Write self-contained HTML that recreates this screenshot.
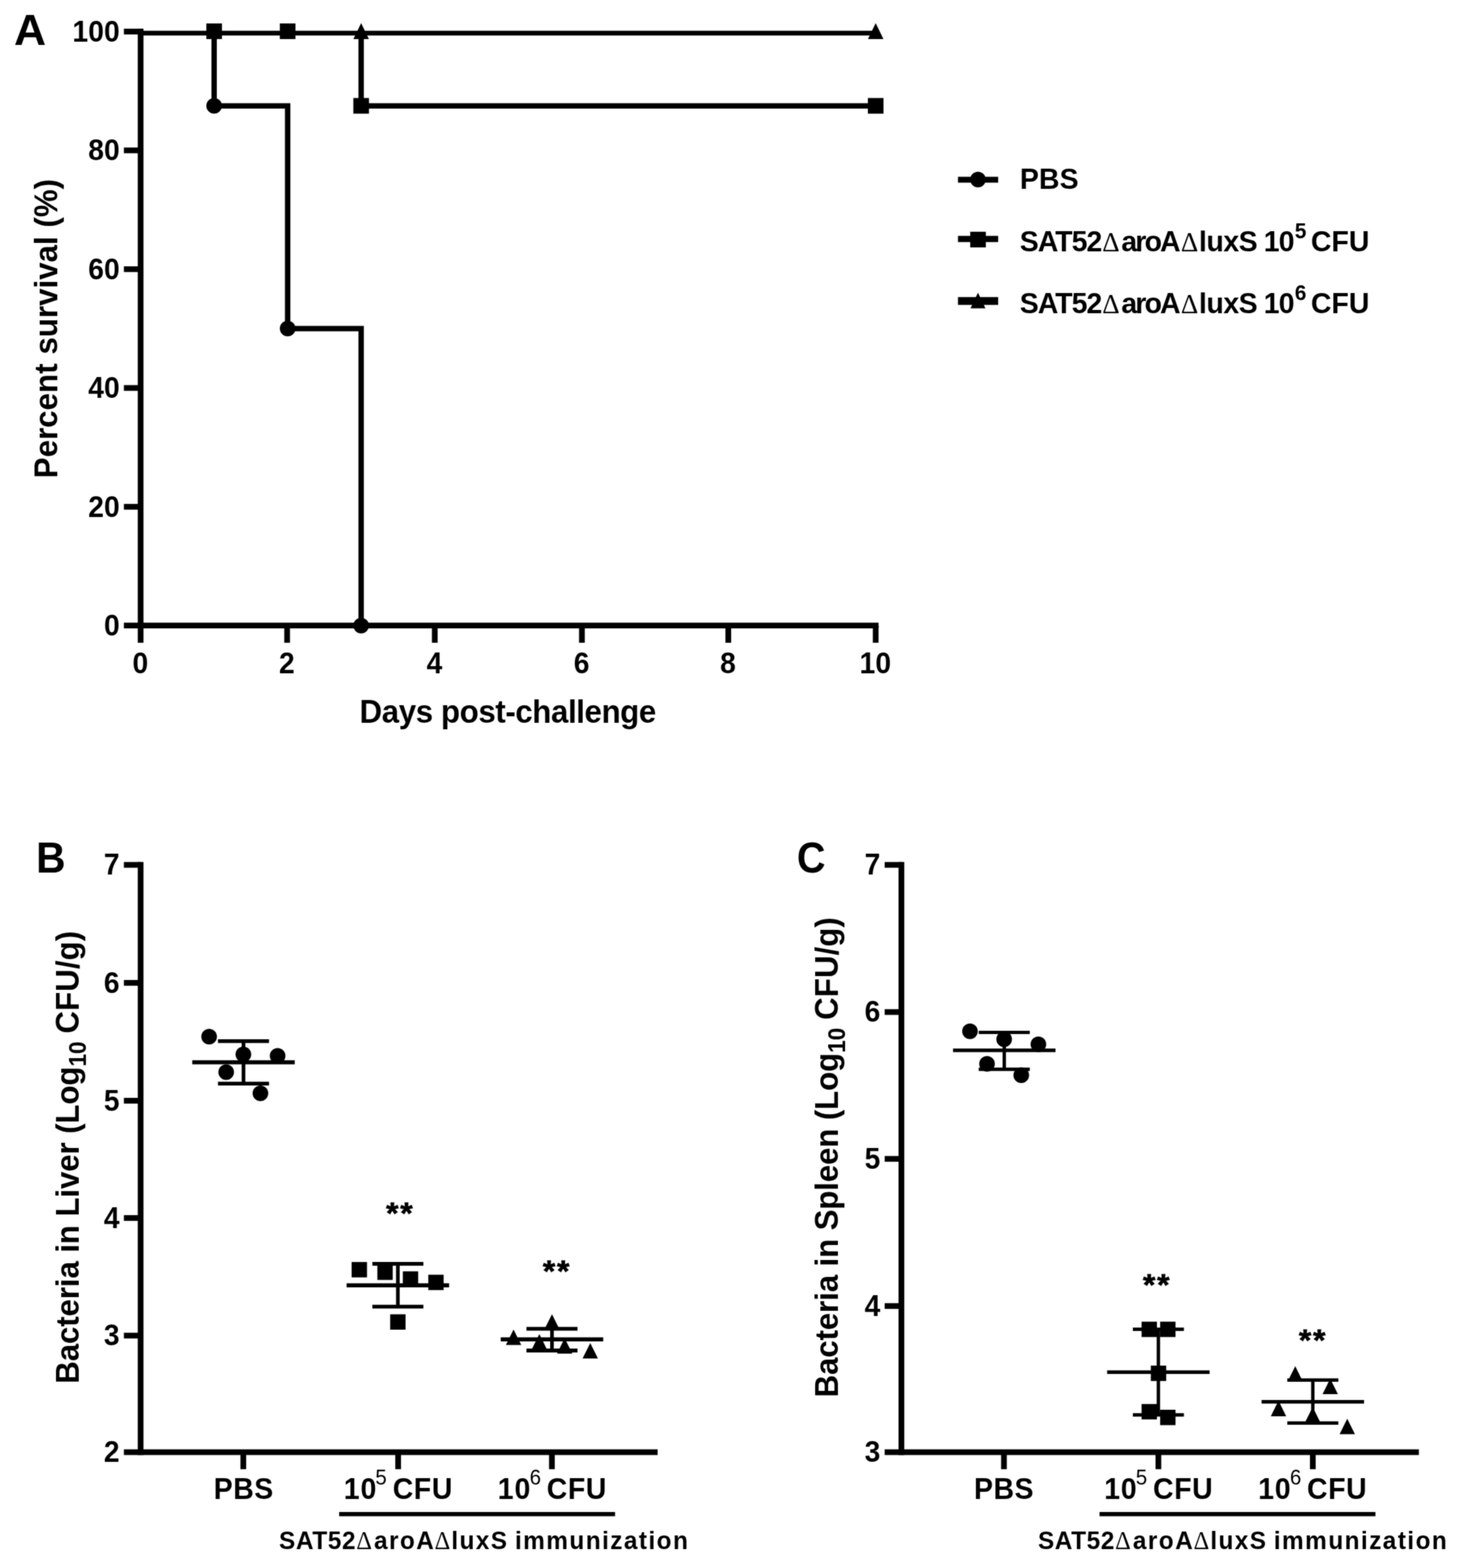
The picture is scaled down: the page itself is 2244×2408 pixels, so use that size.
<!DOCTYPE html>
<html lang="en">
<head>
<meta charset="utf-8">
<title>Figure: survival and bacterial load after immunization</title>
<style>
html, body { margin: 0; padding: 0; background: #fff; }
body { width: 2244px; height: 2408px; overflow: hidden; }
svg { display: block; font-family: 'Liberation Sans', sans-serif; font-weight: bold; }
svg text { fill: #000; stroke: none; white-space: pre; }
</style>
</head>
<body>
<svg width="2244" height="2408" viewBox="0 0 2244 2408">
<defs><filter id="soft" x="0" y="0" width="2244" height="2408" filterUnits="userSpaceOnUse" color-interpolation-filters="sRGB"><feConvolveMatrix order="3" kernelMatrix="1 3 1 3 9 3 1 3 1" divisor="25" edgeMode="duplicate" preserveAlpha="true"/></filter></defs>
<g id="figure" filter="url(#soft)">
<rect x="0" y="0" width="2244" height="2408" fill="#ffffff"/>
<g id="panelA-axes" stroke="#000" fill="none">
<line x1="216" y1="44.1" x2="216" y2="965.1" stroke-width="8.8"/>
<line x1="190.3" y1="960.7" x2="1349.4" y2="960.7" stroke-width="8.8"/>
<line x1="190.3" y1="778.26" x2="216" y2="778.26" stroke-width="8.8"/>
<line x1="190.3" y1="595.82" x2="216" y2="595.82" stroke-width="8.8"/>
<line x1="190.3" y1="413.38" x2="216" y2="413.38" stroke-width="8.8"/>
<line x1="190.3" y1="230.94" x2="216" y2="230.94" stroke-width="8.8"/>
<line x1="190.3" y1="48.5" x2="216" y2="48.5" stroke-width="8.8"/>
<line x1="216" y1="960.7" x2="216" y2="987.1" stroke-width="8.8"/>
<line x1="441" y1="960.7" x2="441" y2="987.1" stroke-width="8.8"/>
<line x1="667.8" y1="960.7" x2="667.8" y2="987.1" stroke-width="8.8"/>
<line x1="893.8" y1="960.7" x2="893.8" y2="987.1" stroke-width="8.8"/>
<line x1="1118.6" y1="960.7" x2="1118.6" y2="987.1" stroke-width="8.8"/>
<line x1="1345" y1="960.7" x2="1345" y2="987.1" stroke-width="8.8"/>
</g>
<g id="panelA-labels">
<text transform="translate(184,976) scale(1,1.065)" font-size="43.4" text-anchor="end" letter-spacing="0.15">0</text>
<text transform="translate(184,793.56) scale(1,1.065)" font-size="43.4" text-anchor="end" letter-spacing="0.15">20</text>
<text transform="translate(184,611.12) scale(1,1.065)" font-size="43.4" text-anchor="end" letter-spacing="0.15">40</text>
<text transform="translate(184,428.68) scale(1,1.065)" font-size="43.4" text-anchor="end" letter-spacing="0.15">60</text>
<text transform="translate(184,246.24) scale(1,1.065)" font-size="43.4" text-anchor="end" letter-spacing="0.15">80</text>
<text transform="translate(184,63.8) scale(1,1.065)" font-size="43.4" text-anchor="end" letter-spacing="0.15">100</text>
<text transform="translate(215.6,1034) scale(1,1.065)" font-size="43.4" text-anchor="middle" letter-spacing="0.15">0</text>
<text transform="translate(440.6,1034) scale(1,1.065)" font-size="43.4" text-anchor="middle" letter-spacing="0.15">2</text>
<text transform="translate(667.4,1034) scale(1,1.065)" font-size="43.4" text-anchor="middle" letter-spacing="0.15">4</text>
<text transform="translate(893.4,1034) scale(1,1.065)" font-size="43.4" text-anchor="middle" letter-spacing="0.15">6</text>
<text transform="translate(1118.2,1034) scale(1,1.065)" font-size="43.4" text-anchor="middle" letter-spacing="0.15">8</text>
<text transform="translate(1344.6,1034) scale(1,1.065)" font-size="43.4" text-anchor="middle" letter-spacing="0.15">10</text>
<text transform="translate(552.3,1109.6) scale(1,1.05)" font-size="48.0" letter-spacing="-0.61">Days post-challenge</text>
<text transform="translate(88,734.4) rotate(-90) scale(1,1.05)" font-size="48.0" letter-spacing="0.05">Percent survival (%)</text>
<text transform="translate(21.4,69.4) scale(1,0.972)" font-size="68.3">A</text>
</g>
<g id="panelA-series" stroke="#000" fill="none">
<line x1="216" y1="50.9" x2="1345" y2="50.9" stroke-width="7.3"/>
<polyline points="554.7,50 554.7,162.53 1345,162.53" stroke-width="8.3"/>
<polyline points="328.9,50 328.9,162.53 441.8,162.53 441.8,504.6 554.7,504.6 554.7,960.7" stroke-width="8.3"/>
</g>
<g id="panelA-markers" fill="#000">
<rect x="316.9" y="36" width="24" height="24"/>
<rect x="429.8" y="36" width="24" height="24"/>
<rect x="542.7" y="150.53" width="24" height="24"/>
<rect x="1333" y="150.53" width="24" height="24"/>
<polygon points="554.7,35.4 566.6,60.1 542.8,60.1"/>
<polygon points="1345,35.4 1356.9,60.1 1333.1,60.1"/>
<circle cx="328.9" cy="162.53" r="12"/>
<circle cx="441.8" cy="504.6" r="12"/>
<circle cx="554.7" cy="960.7" r="12"/>
</g>
<g id="legend-keys" stroke="#000" fill="none">
<line x1="1471.4" y1="276" x2="1533.1" y2="276" stroke-width="9.0"/>
<line x1="1471.4" y1="367.1" x2="1533.1" y2="367.1" stroke-width="9.5"/>
<line x1="1471.4" y1="462.2" x2="1533.1" y2="462.2" stroke-width="12.0"/>
</g>
<g id="legend-markers" fill="#000">
<circle cx="1502.1" cy="275.7" r="12"/>
<rect x="1490.2" y="355.9" width="24" height="24"/>
<polygon points="1502.1,449.6 1513.6,473.4 1490.6,473.4"/>
</g>
<g id="legend-text">
<text transform="translate(1566.4,289.5) scale(1,1.02)" font-size="43.7" letter-spacing="0.2">PBS</text>
<text transform="translate(0,386.4) scale(1,1.02)" font-size="43.7"><tspan x="1566.3" letter-spacing="-1.5">SAT52</tspan><tspan x="1693" font-family="'Liberation Serif', serif" font-weight="normal" font-size="41.5">&#916;</tspan><tspan x="1722.2" letter-spacing="-2.8">aroA</tspan><tspan x="1813.8" font-family="'Liberation Serif', serif" font-weight="normal" font-size="41.5">&#916;</tspan><tspan x="1841.5" letter-spacing="-0.67">luxS </tspan><tspan x="1941" letter-spacing="-1.4">10</tspan><tspan x="1988.8" dy="-19.61" font-size="32">5 </tspan><tspan x="2013.4" dy="19.61" letter-spacing="0.05">CFU</tspan></text>
<text transform="translate(0,481.2) scale(1,1.02)" font-size="43.7"><tspan x="1566.3" letter-spacing="-1.5">SAT52</tspan><tspan x="1693" font-family="'Liberation Serif', serif" font-weight="normal" font-size="41.5">&#916;</tspan><tspan x="1722.2" letter-spacing="-2.8">aroA</tspan><tspan x="1813.8" font-family="'Liberation Serif', serif" font-weight="normal" font-size="41.5">&#916;</tspan><tspan x="1841.5" letter-spacing="-0.67">luxS </tspan><tspan x="1941" letter-spacing="-1.4">10</tspan><tspan x="1988.8" dy="-19.61" font-size="32">6 </tspan><tspan x="2013.4" dy="19.61" letter-spacing="0.05">CFU</tspan></text>
</g>
<g id="panelB-axes" stroke="#000" fill="none">
<line x1="216" y1="1323.8" x2="216" y2="2234.6" stroke-width="8.8"/>
<line x1="190.3" y1="2230.2" x2="1010.1" y2="2230.2" stroke-width="8.8"/>
<line x1="190.3" y1="1328.2" x2="216" y2="1328.2" stroke-width="8.8"/>
<line x1="190.3" y1="1509.4" x2="216" y2="1509.4" stroke-width="8.8"/>
<line x1="190.3" y1="1690.4" x2="216" y2="1690.4" stroke-width="8.8"/>
<line x1="190.3" y1="1870.5" x2="216" y2="1870.5" stroke-width="8.8"/>
<line x1="190.3" y1="2051.1" x2="216" y2="2051.1" stroke-width="8.8"/>
<line x1="373.7" y1="2230.2" x2="373.7" y2="2256.3" stroke-width="8.8"/>
<line x1="611.5" y1="2230.2" x2="611.5" y2="2256.3" stroke-width="8.8"/>
<line x1="847.7" y1="2230.2" x2="847.7" y2="2256.3" stroke-width="8.8"/>
<line x1="520.9" y1="2325.3" x2="944.7" y2="2325.3" stroke-width="6.6"/>
</g>
<g id="panelB-labels">
<text transform="translate(183.6,1343.4) scale(1,1.065)" font-size="43.4" text-anchor="end">7</text>
<text transform="translate(183.6,1524.6) scale(1,1.065)" font-size="43.4" text-anchor="end">6</text>
<text transform="translate(183.6,1705.6) scale(1,1.065)" font-size="43.4" text-anchor="end">5</text>
<text transform="translate(183.6,1885.7) scale(1,1.065)" font-size="43.4" text-anchor="end">4</text>
<text transform="translate(183.6,2066.3) scale(1,1.065)" font-size="43.4" text-anchor="end">3</text>
<text transform="translate(183.6,2245.4) scale(1,1.065)" font-size="43.4" text-anchor="end">2</text>
<text transform="translate(55.6,1340) scale(1,1.065)" font-size="62.6">B</text>
<text transform="translate(121.2,2125) rotate(-90) scale(1,1.05)" font-size="48.0" letter-spacing="-0.17">Bacteria in Liver (Log<tspan font-size="35" dy="10.29">10</tspan><tspan dy="-10.29" dx="-1.2" letter-spacing="0.1"> CFU/g)</tspan></text>
<text transform="translate(328.3,2302) scale(1,1.04)" font-size="43.7" letter-spacing="0.7">PBS</text>
<text transform="translate(0,2302) scale(1,1.04)" font-size="43.7"><tspan x="528.1" letter-spacing="1.35">10</tspan><tspan x="576.6" dy="-21.35" font-size="31.5" font-weight="normal">5 </tspan><tspan x="603.2" dy="21.35" letter-spacing="0.85">CFU</tspan></text>
<text transform="translate(0,2302) scale(1,1.04)" font-size="43.7"><tspan x="764.6" letter-spacing="1.35">10</tspan><tspan x="813.5" dy="-21.35" font-size="31.5" font-weight="normal">6 </tspan><tspan x="839.8" dy="21.35" letter-spacing="0.85">CFU</tspan></text>
<text transform="translate(0,2379.2) scale(1,1.04)" font-size="37.5"><tspan x="428.6" letter-spacing="0.88">SAT52</tspan><tspan x="547.2" font-family="'Liberation Serif', serif" font-weight="normal" font-size="37.5">&#916;</tspan><tspan x="574.4" letter-spacing="2.2">aroA</tspan><tspan x="667.6" font-family="'Liberation Serif', serif" font-weight="normal" font-size="37.5">&#916;</tspan><tspan x="693.3" letter-spacing="2.13">luxS </tspan><tspan x="790.9" letter-spacing="2.19">immunization</tspan></text>
<text transform="translate(593.1,1879.1) scale(1,0.93)" font-size="49" letter-spacing="2.7" style="stroke:#000;stroke-width:0.9px">**</text>
<text transform="translate(833.8,1967.8) scale(1,0.93)" font-size="49" letter-spacing="2.7" style="stroke:#000;stroke-width:0.9px">**</text>
</g>
<g id="panelB-errorbars" stroke="#000" fill="none">
<line x1="295.3" y1="1631.3" x2="452.7" y2="1631.3" stroke-width="6.2"/>
<line x1="334.8" y1="1598.9" x2="413.2" y2="1598.9" stroke-width="5.8"/>
<line x1="334.8" y1="1664.1" x2="413.2" y2="1664.1" stroke-width="5.8"/>
<line x1="374" y1="1598.9" x2="374" y2="1664.1" stroke-width="5.6"/>
<line x1="532.4" y1="1973.9" x2="689.8" y2="1973.9" stroke-width="6.2"/>
<line x1="571.9" y1="1940.9" x2="650.3" y2="1940.9" stroke-width="5.8"/>
<line x1="571.9" y1="2006.7" x2="650.3" y2="2006.7" stroke-width="5.8"/>
<line x1="611.1" y1="1940.9" x2="611.1" y2="2006.7" stroke-width="5.6"/>
<line x1="769.1" y1="2056.8" x2="926.5" y2="2056.8" stroke-width="6.2"/>
<line x1="808.6" y1="2040.6" x2="887" y2="2040.6" stroke-width="5.8"/>
<line x1="808.6" y1="2074" x2="887" y2="2074" stroke-width="5.8"/>
<line x1="847.8" y1="2040.6" x2="847.8" y2="2074" stroke-width="5.6"/>
</g>
<g id="panelB-points" fill="#000">
<circle cx="321.2" cy="1592.1" r="12"/>
<circle cx="373.8" cy="1619.3" r="12"/>
<circle cx="426.4" cy="1621.4" r="12"/>
<circle cx="347.4" cy="1646.4" r="12"/>
<circle cx="400" cy="1678.9" r="12"/>
<rect x="540.1" y="1938.1" width="23.6" height="23.6"/>
<rect x="579.6" y="1942" width="23.6" height="23.6"/>
<rect x="618.7" y="1952.4" width="23.6" height="23.6"/>
<rect x="657.8" y="1957.6" width="23.6" height="23.6"/>
<rect x="599.3" y="2018.4" width="23.6" height="23.6"/>
<polygon points="788.8,2041.8 800.6,2065.6 777,2065.6"/>
<polygon points="828.4,2048.8 840.2,2072.6 816.6,2072.6"/>
<polygon points="847.8,2018.2 859.6,2042 836,2042"/>
<polygon points="867.3,2055 879.1,2078.8 855.5,2078.8"/>
<polygon points="906.6,2062.4 918.4,2086.2 894.8,2086.2"/>
</g>
<g id="panelC-axes" stroke="#000" fill="none">
<line x1="1384.5" y1="1323.8" x2="1384.5" y2="2234.6" stroke-width="8.8"/>
<line x1="1358.8" y1="2230.2" x2="2179.3" y2="2230.2" stroke-width="8.8"/>
<line x1="1358.8" y1="1328.2" x2="1384.5" y2="1328.2" stroke-width="8.8"/>
<line x1="1358.8" y1="1554.2" x2="1384.5" y2="1554.2" stroke-width="8.8"/>
<line x1="1358.8" y1="1779.7" x2="1384.5" y2="1779.7" stroke-width="8.8"/>
<line x1="1358.8" y1="2005.7" x2="1384.5" y2="2005.7" stroke-width="8.8"/>
<line x1="1542" y1="2230.2" x2="1542" y2="2256.3" stroke-width="8.8"/>
<line x1="1779.2" y1="2230.2" x2="1779.2" y2="2256.3" stroke-width="8.8"/>
<line x1="2016.4" y1="2230.2" x2="2016.4" y2="2256.3" stroke-width="8.8"/>
<line x1="1688.8" y1="2325.3" x2="2112.6" y2="2325.3" stroke-width="6.6"/>
</g>
<g id="panelC-labels">
<text transform="translate(1352.1,1343.4) scale(1,1.065)" font-size="43.4" text-anchor="end">7</text>
<text transform="translate(1352.1,1569.4) scale(1,1.065)" font-size="43.4" text-anchor="end">6</text>
<text transform="translate(1352.1,1794.9) scale(1,1.065)" font-size="43.4" text-anchor="end">5</text>
<text transform="translate(1352.1,2020.9) scale(1,1.065)" font-size="43.4" text-anchor="end">4</text>
<text transform="translate(1352.1,2245.4) scale(1,1.065)" font-size="43.4" text-anchor="end">3</text>
<text transform="translate(1224,1340) scale(1,1.09)" font-size="60.8">C</text>
<text transform="translate(1287.2,2146) rotate(-90) scale(1,1.05)" font-size="48.0" letter-spacing="-0.19">Bacteria in Spleen (Log<tspan font-size="35" dy="10.29">10</tspan><tspan dy="-10.29" dx="-1.2" letter-spacing="0.1"> CFU/g)</tspan></text>
<text transform="translate(1496.1,2302) scale(1,1.04)" font-size="43.7" letter-spacing="0.7">PBS</text>
<text transform="translate(0,2302) scale(1,1.04)" font-size="43.7"><tspan x="1695.9" letter-spacing="1.35">10</tspan><tspan x="1744.4" dy="-21.35" font-size="31.5" font-weight="normal">5 </tspan><tspan x="1771" dy="21.35" letter-spacing="0.85">CFU</tspan></text>
<text transform="translate(0,2302) scale(1,1.04)" font-size="43.7"><tspan x="1932.4" letter-spacing="1.35">10</tspan><tspan x="1981.3" dy="-21.35" font-size="31.5" font-weight="normal">6 </tspan><tspan x="2007.6" dy="21.35" letter-spacing="0.85">CFU</tspan></text>
<text transform="translate(0,2379.2) scale(1,1.04)" font-size="37.5"><tspan x="1594.2" letter-spacing="0.88">SAT52</tspan><tspan x="1712.8" font-family="'Liberation Serif', serif" font-weight="normal" font-size="37.5">&#916;</tspan><tspan x="1740" letter-spacing="2.2">aroA</tspan><tspan x="1833.2" font-family="'Liberation Serif', serif" font-weight="normal" font-size="37.5">&#916;</tspan><tspan x="1858.9" letter-spacing="2.13">luxS </tspan><tspan x="1956.5" letter-spacing="2.19">immunization</tspan></text>
<text transform="translate(1755.4,1989.4) scale(1,0.93)" font-size="49" letter-spacing="2.7" style="stroke:#000;stroke-width:0.9px">**</text>
<text transform="translate(1995.1,2073.8) scale(1,0.93)" font-size="49" letter-spacing="2.7" style="stroke:#000;stroke-width:0.9px">**</text>
</g>
<g id="panelC-errorbars" stroke="#000" fill="none">
<line x1="1463.8" y1="1613" x2="1621.2" y2="1613" stroke-width="5.5"/>
<line x1="1503.3" y1="1585.5" x2="1581.7" y2="1585.5" stroke-width="5.2"/>
<line x1="1503.3" y1="1642.2" x2="1581.7" y2="1642.2" stroke-width="5.2"/>
<line x1="1542.5" y1="1585.5" x2="1542.5" y2="1642.2" stroke-width="5.2"/>
<line x1="1700.5" y1="2107.3" x2="1857.9" y2="2107.3" stroke-width="5.5"/>
<line x1="1740" y1="2041.4" x2="1818.4" y2="2041.4" stroke-width="5.2"/>
<line x1="1740" y1="2172.9" x2="1818.4" y2="2172.9" stroke-width="5.2"/>
<line x1="1779.2" y1="2041.4" x2="1779.2" y2="2172.9" stroke-width="5.2"/>
<line x1="1937.7" y1="2152.8" x2="2095.1" y2="2152.8" stroke-width="5.5"/>
<line x1="1977.2" y1="2119.4" x2="2055.6" y2="2119.4" stroke-width="5.2"/>
<line x1="1977.2" y1="2185.4" x2="2055.6" y2="2185.4" stroke-width="5.2"/>
<line x1="2016.4" y1="2119.4" x2="2016.4" y2="2185.4" stroke-width="5.2"/>
</g>
<g id="panelC-points" fill="#000">
<circle cx="1489.8" cy="1583.7" r="12"/>
<circle cx="1542.3" cy="1596" r="12"/>
<circle cx="1594.9" cy="1603.8" r="12"/>
<circle cx="1516" cy="1633.8" r="12"/>
<circle cx="1568.6" cy="1651.3" r="12"/>
<rect x="1753.4" y="2029.7" width="23.6" height="23.6"/>
<rect x="1781.9" y="2029.7" width="23.6" height="23.6"/>
<rect x="1767.6" y="2097.2" width="23.6" height="23.6"/>
<rect x="1753.4" y="2156.2" width="23.6" height="23.6"/>
<rect x="1781.9" y="2165" width="23.6" height="23.6"/>
<polygon points="1989.4,2098.1 2001.2,2121.9 1977.6,2121.9"/>
<polygon points="2043.1,2117.3 2054.9,2141.1 2031.3,2141.1"/>
<polygon points="1963.7,2151.1 1975.5,2174.9 1951.9,2174.9"/>
<polygon points="2016.2,2160.7 2028,2184.5 2004.4,2184.5"/>
<polygon points="2069.3,2178.8 2081.1,2202.6 2057.5,2202.6"/>
</g>
</g>
</svg>
</body>
</html>
